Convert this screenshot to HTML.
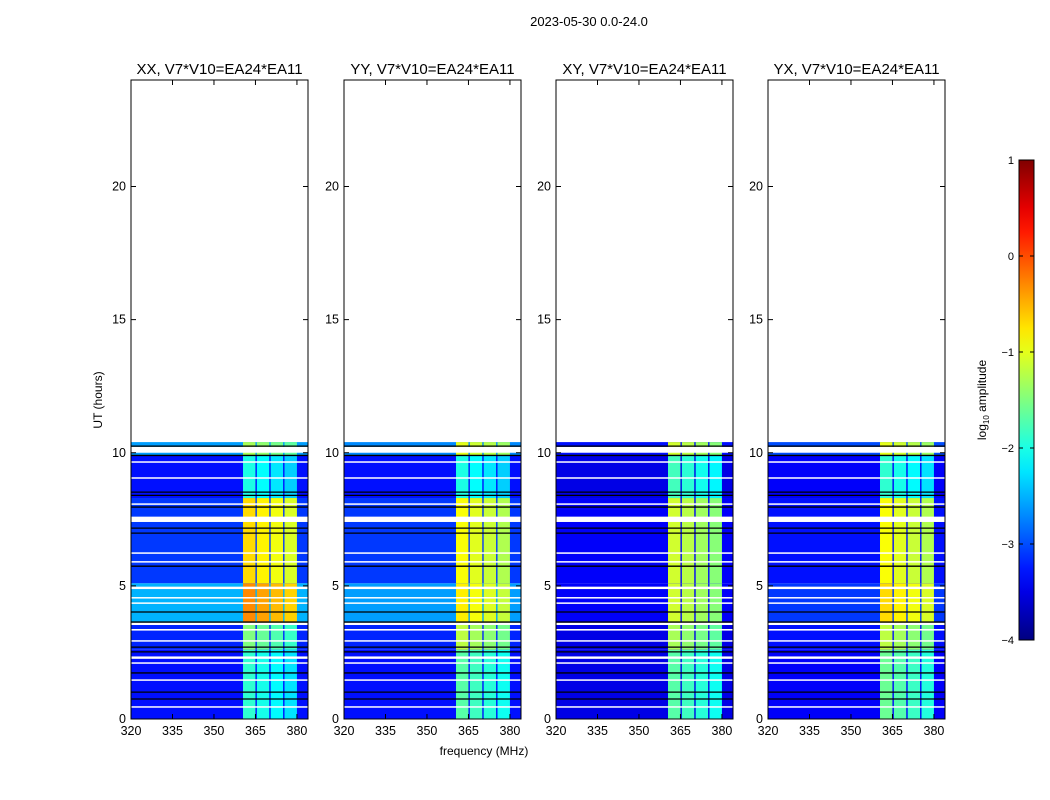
<!DOCTYPE html>
<html><head><meta charset="utf-8">
<style>
body{margin:0;background:#fff;}
svg{display:block;font-family:"Liberation Sans",sans-serif;}
</style></head>
<body>
<svg id="chart" width="1050" height="800" viewBox="0 0 1050 800">
<text x="589" y="26" font-size="13" text-anchor="middle">2023-05-30 0.0-24.0</text>
<g id="panels"></g>
<g id="cbar"></g>
</svg>
<script>
// ---- data ----
const panelTitles = ["XX, V7*V10=EA24*EA11","YY, V7*V10=EA24*EA11","XY, V7*V10=EA24*EA11","YX, V7*V10=EA24*EA11"];
const segStart = [0, 2.6, 3.6, 5.1, 8.3, 9.9];
const segEnd   = [2.6, 3.6, 5.1, 8.3, 9.9, 10.4];
const bgXX = [-3.3, -3.2, -2.5, -3.1, -3.3, -2.6];
const bgYY = [-3.3, -3.2, -2.6, -3.1, -3.3, -2.7];
const bgXY = [-3.5, -3.5, -3.4, -3.4, -3.5, -3.3];
const bgYX = [-3.4, -3.3, -3.1, -3.3, -3.4, -3.0];
const bandXX = [-1.9, -1.5, -0.3, -0.7, -2.0, -1.3];
const bandYY = [-1.7, -1.2, -0.8, -0.9, -2.0, -1.0];
const bandXY = [-1.7, -1.3, -1.1, -1.1, -1.8, -1.1];
const bandYX = [-1.6, -1.2, -0.7, -0.9, -1.9, -1.0];
const subStart = [360.5, 365.5, 370.5, 375.5];
const subEnd   = [365.0, 370.0, 375.0, 380.0];
const whiteStart = [10.0, 9.63, 9.03, 8.05, 7.4, 6.21, 5.88, 4.88, 4.53, 4.33, 3.53, 3.32, 2.91, 2.26, 2.08, 1.44, 0.43];
const whiteEnd   = [10.22, 9.68, 9.08, 8.1, 7.6, 6.26, 5.93, 4.97, 4.58, 4.38, 3.62, 3.38, 2.96, 2.35, 2.13, 1.49, 0.48];
const blackLines = [10.25, 9.9, 8.52, 8.4, 7.96, 7.17, 6.98, 5.74, 4.02, 3.64, 2.7, 2.52, 1.73, 1.01, 0.75];
const xTicks = [320, 335, 350, 365, 380];
const yTicks = [0, 5, 10, 15, 20];
const cbTicks = [1, 0, -1, -2, -3, -4];
// ---- layout ----
const panelLeft = [131, 344, 556, 768];
const PW = 177, PT = 80, PB = 719;
const fMin = 320, fMax = 384, tMin = 0, tMax = 24;
const bgs = [bgXX, bgYY, bgXY, bgYX], bands = [bandXX, bandYY, bandXY, bandYX];
const NS = "http://www.w3.org/2000/svg";
function jet(v){ // v in [-4,1]
  let t = (v + 4) / 5; t = Math.max(0, Math.min(1, t));
  const c = x => Math.round(255 * Math.max(0, Math.min(1, x)));
  const r = c(Math.min(4*t-1.5, -4*t+4.5)), g = c(Math.min(4*t-0.5, -4*t+3.5)), b = c(Math.min(4*t+0.5, -4*t+2.5));
  return `rgb(${r},${g},${b})`;
}
function mk(tag, attrs, parent){ const e = document.createElementNS(NS, tag); for (const k in attrs) e.setAttribute(k, attrs[k]); parent.appendChild(e); return e; }
const root = document.getElementById('panels');
panelTitles.forEach((title, p) => {
  const L = panelLeft[p];
  const xs = f => L + (f - fMin) / (fMax - fMin) * PW;
  const ys = t => PB - (t - tMin) / (tMax - tMin) * (PB - PT);
  const g = mk('g', {}, root);
  
  
  segStart.forEach((s, i) => {
    const y0 = ys(segEnd[i]), y1 = ys(s);
    const bgr = mk('rect', {x: xs(fMin), y: y0, width: xs(fMax)-xs(fMin), height: y1-y0, fill: jet(bgs[p][i])}, g);
    
    
    subStart.forEach((fs, k) => {
      const r = mk('rect', {x: xs(fs), y: y0, width: xs(subEnd[k])-xs(fs), height: y1-y0, fill: jet(bands[p][i] - 0.12*k)}, g);
      
      
    });
  });
  whiteStart.forEach((s, i) => {
    const y0 = ys(whiteEnd[i]), y1 = ys(s);
    const r = mk('rect', {x: L, y: y0, width: PW, height: Math.max(1.5, y1-y0), fill: '#fff'}, g);
    
    
  });
  blackLines.forEach(t => {
    const l = mk('line', {x1: L, x2: L+PW, y1: ys(t), y2: ys(t), stroke: '#000', 'stroke-width': 1.3}, g);
    
    
  });
  const fr = mk('rect', {x: L, y: PT, width: PW, height: PB-PT, fill: 'none', stroke: '#000', 'stroke-width': 1}, g);
  
  
  xTicks.forEach(v => {
    const x = xs(v);
    mk('line', {x1: x, x2: x, y1: PB, y2: PB-5, stroke: '#000'}, g);
    mk('line', {x1: x, x2: x, y1: PT, y2: PT+5, stroke: '#000'}, g);
    const t = mk('text', {x: x, y: PB+16, 'font-size': 12.5, 'text-anchor': 'middle'}, g);
    t.textContent = v;
    
    
  });
  yTicks.forEach(v => {
    const y = ys(v);
    mk('line', {x1: L, x2: L+5, y1: y, y2: y, stroke: '#000'}, g);
    mk('line', {x1: L+PW, x2: L+PW-5, y1: y, y2: y, stroke: '#000'}, g);
    const t = mk('text', {x: L-5, y: y+4, 'font-size': 12.5, 'text-anchor': 'end'}, g);
    t.textContent = v;
    
    
  });
  const tt = mk('text', {x: L+PW/2, y: 74, 'font-size': 15, 'text-anchor': 'middle'}, g);
  tt.textContent = title;
  
  
});
const yl = mk('text', {x: 0, y: 0, 'font-size': 12, 'text-anchor': 'middle', transform: 'translate(102,400) rotate(-90)'}, root);
yl.textContent = 'UT (hours)';


const xl = mk('text', {x: 484, y: 755, 'font-size': 12, 'text-anchor': 'middle'}, root);
xl.textContent = 'frequency (MHz)';


// colorbar
const cb = document.getElementById('cbar');
const defs = mk('defs', {}, cb);
const lg = mk('linearGradient', {id: 'jetg', x1: 0, y1: 1, x2: 0, y2: 0}, defs);
for (let i = 0; i <= 20; i++) mk('stop', {offset: i/20, 'stop-color': jet(-4 + 5*i/20)}, lg);
const CX = 1019, CW = 15, CT = 160, CB = 640;
const cr = mk('rect', {x: CX, y: CT, width: CW, height: CB-CT, fill: 'url(#jetg)', stroke: '#000', 'stroke-width': 1}, cb);


cbTicks.forEach(v => {
  const y = CB - (v + 4) / 5 * (CB - CT);
  mk('line', {x1: CX, x2: CX+4, y1: y, y2: y, stroke: '#000'}, cb);
  mk('line', {x1: CX+CW, x2: CX+CW-4, y1: y, y2: y, stroke: '#000'}, cb);
  const t = mk('text', {x: CX-5, y: y+4, 'font-size': 11, 'text-anchor': 'end'}, cb);
  t.textContent = v < 0 ? '\u2212' + (-v) : v;
  
  
});
const cl = mk('text', {x: 0, y: 0, 'font-size': 12, 'text-anchor': 'middle', transform: 'translate(986,400) rotate(-90)'}, cb);
cl.innerHTML = 'log<tspan font-size="8" dy="3">10</tspan><tspan dy="-3"> amplitude</tspan>';


</script>
</body></html>
